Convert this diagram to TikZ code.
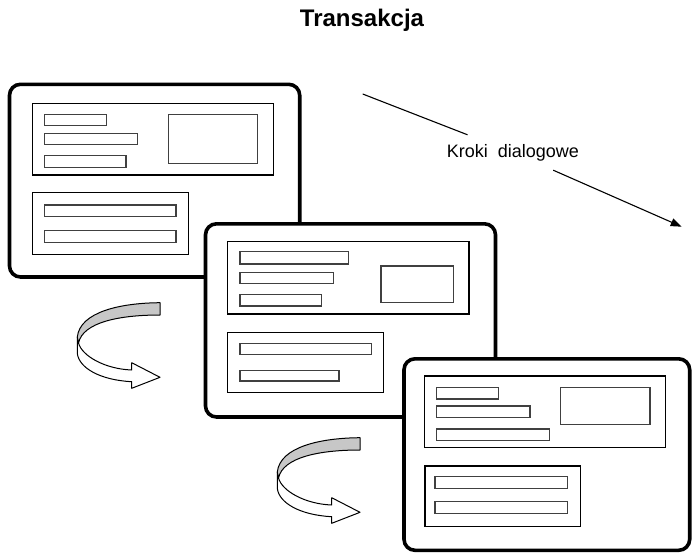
\documentclass[tikz,border=0pt]{standalone}
\usepackage{fontspec}
\setmainfont{Liberation Sans}
\usetikzlibrary{arrows.meta}
\begin{document}
\begin{tikzpicture}[x=1pt,y=-1pt,
  screenbox/.style={draw=black,line width=3.6pt,fill=white,rounded corners=11pt},
  panelbox/.style={draw=black,line width=1.5pt},
  barbox/.style={draw=black!75,line width=1.3pt},
  ribbon/.style={draw=black,line width=1pt,line join=round},
  steplabel/.style={font=\fontsize{18}{20}\selectfont,text height=13pt,text depth=4pt,
                    inner xsep=2pt,inner ysep=9pt},
  stepline/.style={line width=1.1pt,draw=black}]
\useasboundingbox (0,0) rectangle (692,554);

% title
\node[anchor=base,font=\fontsize{24}{28}\selectfont\bfseries] (title) at (362,26.7) {Transakcja};

% dialogue steps label with its arrow
\coordinate (ks) at (362.7,94);
\coordinate (ke) at (681.7,226.7);
\node[steplabel] (kd) at (513,152.5) {Kroki\ \ dialogowe};
\draw[stepline] (ks) -- (kd);
\draw[stepline,-{Triangle[length=11pt,width=8pt]}] (kd) -- (ke);

% screen 1
\draw[screenbox] (9.5,84.3) rectangle (299.7,277);
\draw[panelbox] (32.3,103.3) rectangle (273.3,175);
\draw[barbox] (44.3,114.3) rectangle (106.7,125.7);
\draw[barbox] (44.3,133.3) rectangle (137.3,144.7);
\draw[barbox] (44.3,155.7) rectangle (126,167.3);
\draw[barbox] (168.3,114.3) rectangle (257.7,163.3);
\draw[panelbox] (32.3,192.7) rectangle (188.3,254.3);
\draw[barbox] (44.3,205) rectangle (176,216.7);
\draw[barbox] (44.3,230.7) rectangle (176,242.7);

% screen 2
\draw[screenbox] (205.5,223.8) rectangle (495.5,417);
\draw[panelbox] (227.7,241.7) rectangle (469,314);
\draw[barbox] (240,251.7) rectangle (348.3,264);
\draw[barbox] (240,272.3) rectangle (333.3,283.3);
\draw[barbox] (240,294.3) rectangle (321.7,306);
\draw[barbox] (381,266) rectangle (453.3,302.3);
\draw[panelbox] (227.7,332.3) rectangle (383.3,392.3);
\draw[barbox] (240,343.3) rectangle (371.7,354.3);
\draw[barbox] (240,370.7) rectangle (339,381);

% screen 3
\draw[screenbox] (404,358.8) rectangle (689.7,550.3);
\draw[panelbox] (424.3,376) rectangle (665.7,447.7);
\draw[barbox] (436.7,387.3) rectangle (498.7,399);
\draw[barbox] (436.7,406) rectangle (530,417.7);
\draw[barbox] (436.7,429) rectangle (549.7,440.7);
\draw[barbox] (560.7,387.3) rectangle (650,424.3);
\draw[panelbox] (425,466) rectangle (580.7,526.7);
\draw[barbox] (435,476.7) rectangle (567.3,488.3);
\draw[barbox] (435,501.7) rectangle (567.3,513.3);

% curved ribbon arrows between the screens
\foreach \dx/\dy in {0/0,200/135}{
  \begin{scope}[shift={(\dx,\dy)}]
    \fill[white,ribbon] (77.3,337) -- (77.3,353.3)
      .. controls (79,368) and (100,380) .. (131.7,381.7)
      -- (131.7,388.3) -- (160,377.3) -- (131.7,362.7) -- (131.7,370)
      .. controls (105,369) and (82,356) .. (78.5,343) -- cycle;
    \draw[ribbon,fill=black!22] (160,302.7)
      .. controls (120,303) and (80,312) .. (77.3,337) -- (78.5,343)
      .. controls (83,322) and (120,315) .. (160,315) -- cycle;
  \end{scope}
}
\end{tikzpicture}
\end{document}
